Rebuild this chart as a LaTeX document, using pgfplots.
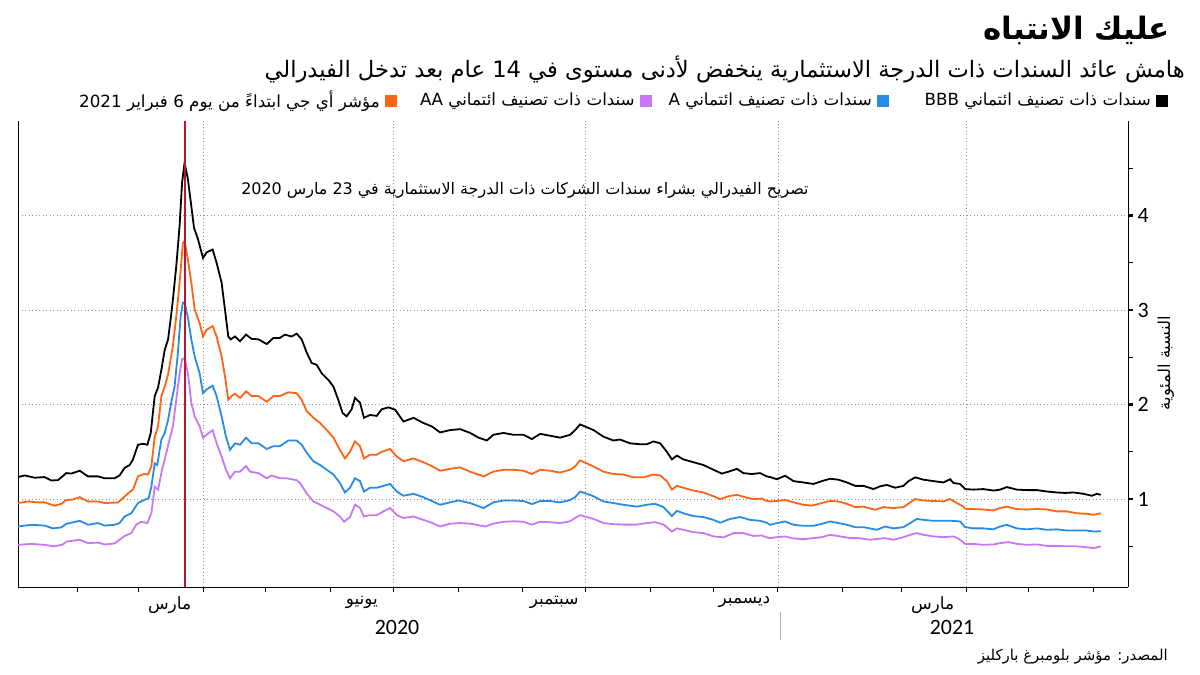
\documentclass[border=0pt]{standalone}
\usepackage{fontspec}
\setmainfont{DejaVu Sans}
\newfontfamily\arabicfont[Script=Arabic]{DejaVu Sans}
\newfontfamily\carlito{Carlito}
\TeXXeTstate=1
\usepackage{pgfplots}
\pgfplotsset{compat=1.18}
\definecolor{corange}{RGB}{255,100,20}
\definecolor{cblue}{RGB}{40,140,230}
\definecolor{cpurple}{RGB}{200,120,245}
\definecolor{cred}{RGB}{185,22,55}
\newcommand{\ar}[1]{{\arabicfont\beginR #1\endR}}
\begin{document}
\begin{tikzpicture}[x=1bp,y=1bp]
\path[use as bounding box] (0,0) rectangle (1200,675);
% titles
\node[anchor=east, inner sep=0pt, font=\arabicfont\bfseries\fontsize{31}{35}\selectfont] at (1170,645) {\ar{عليك الانتباه}};
\node[anchor=east, inner sep=0pt, font=\arabicfont\fontsize{22.7}{26}\selectfont] at (1185,606) {\ar{هامش عائد السندات ذات الدرجة الاستثمارية ينخفض لأدنى مستوى في 14 عام بعد تدخل الفيدرالي}};
% legend
\fill[black] (1156,568) rectangle (1168,580);
\node[anchor=east, inner sep=0pt, font=\arabicfont\fontsize{16.8}{19}\selectfont] at (1151,574) {\ar{سندات ذات تصنيف ائتماني BBB}};
\fill[cblue] (877,568) rectangle (889,580);
\node[anchor=east, inner sep=0pt, font=\arabicfont\fontsize{16.8}{19}\selectfont] at (872,574) {\ar{سندات ذات تصنيف ائتماني A}};
\fill[cpurple] (640,568) rectangle (652,580);
\node[anchor=east, inner sep=0pt, font=\arabicfont\fontsize{16.8}{19}\selectfont] at (635,574) {\ar{سندات ذات تصنيف ائتماني AA}};
\fill[corange] (385,568) rectangle (397,580);
\node[anchor=east, inner sep=0pt, font=\arabicfont\fontsize{16.8}{19}\selectfont] at (380,574) {\ar{مؤشر أي جي ابتداءً من يوم 6 فبراير 2021}};
% y label
\node[rotate=90, inner sep=0pt, font=\arabicfont\fontsize{16.5}{19}\selectfont] at (1166,312) {\ar{النسبة المئوية}};
% years
\node[inner sep=0pt, font=\carlito\fontsize{22}{24}\selectfont] at (397,48) {2020};
\node[inner sep=0pt, font=\carlito\fontsize{22}{24}\selectfont] at (952,48) {2021};
\draw[gray!60, line width=0.6bp] (780,63) -- (780,35);
% source
\node[anchor=east, inner sep=0pt, font=\arabicfont\fontsize{15}{18}\selectfont] at (1168,18) {\ar{المصدر: مؤشر بلومبرغ باركليز}};
\begin{axis}[
  at={(18bp,88bp)}, anchor=south west,
  width=1110bp, height=466bp, scale only axis,
  xmin=2.5, xmax=533.5, ymin=0.07, ymax=5.0,
  axis x line*=bottom, axis y line*=right,
  axis line style={black, line width=0.9bp},
  tick align=outside,
  major tick length=5bp, minor tick length=5bp,
  tick style={black, line width=0.8bp},
  major y tick style={line width=2.2bp},
  xtick={91,182,274,366,456}, xticklabels={},
  minor xtick={31,60,121,152,213,244,305,335,397,425,486,517},
  extra x ticks={75,167,259,350,440},
  extra x tick labels={{\ar{مارس}},{\ar{يونيو}},{\ar{سبتمبر}},{\ar{ديسمبر}},{\ar{مارس}}},
  extra x tick style={major tick length=0pt, grid=none},
  xticklabel style={font=\arabicfont\fontsize{17}{20}\selectfont, yshift=-6bp},
  ytick={1,2,3,4},
  minor ytick={0.5,1.5,2.5,3.5,4.5},
  /pgf/number format/assume math mode=true,
  yticklabel style={font=\carlito\fontsize{22}{24}\selectfont, xshift=1bp},
  xmajorgrids, ymajorgrids,
  major grid style={gray!85, dash pattern=on 1.3bp off 2.2bp, line width=0.6bp},
  clip mode=individual,
]
\draw[black, line width=0.9bp] (rel axis cs:0,0) -- (rel axis cs:0,1);
\node[font=\arabicfont\fontsize{16}{19}\selectfont] at (axis cs:245,4.27) {\ar{تصريح الفيدرالي بشراء سندات الشركات ذات الدرجة الاستثمارية في 23 مارس 2020}};

% AA (purple)
\addplot[cpurple, line width=1.8bp] coordinates {
(2.5,0.516)(8.9,0.526)(15.2,0.516)(20.0,0.50)(24.0,0.52)(25.6,0.55)(32.0,0.57)(36.0,0.534)(40.8,0.54)(44.0,0.52)(48.7,0.53)(51.1,0.57)(53.5,0.61)(56.7,0.64)(59.1,0.73)(61.5,0.76)(64.4,0.746)(66.3,0.85)(67.9,1.13)(69.5,1.10)(71.4,1.31)(72.7,1.42)(75.0,1.63)(76.6,1.77)(78.2,2.05)(79.8,2.33)(81.0,2.48)(82.2,2.49)(83.8,2.33)(85.4,2.02)(87.0,1.875)(89.4,1.77)(91.0,1.65)
(92.7,1.68)(95.6,1.73)(97.5,1.59)(99.9,1.45)(102.0,1.31)(103.9,1.22)(106.3,1.29)(108.7,1.29)(111.6,1.35)(113.5,1.29)(117.5,1.275)(121.5,1.22)(123.9,1.25)(127.8,1.22)(131.0,1.22)(135.8,1.20)(137.4,1.17)(140.6,1.06)(143.8,0.975)(147.0,0.94)(150.2,0.905)(153.4,0.87)(156.5,0.816)(158.5,0.76)(161.3,0.81)(163.7,0.94)(166.1,0.905)(168.0,0.816)(170.9,0.83)(174.1,0.83)(177.3,0.87)(180.5,0.905)
(183.7,0.83)(186.9,0.80)(191.7,0.816)(196.4,0.78)(200.4,0.75)(204.4,0.71)(209.2,0.74)(214.0,0.746)(218.8,0.74)(226.0,0.71)(229.9,0.74)(234.7,0.76)(239.5,0.765)(244.3,0.76)(248.3,0.73)(252.3,0.76)(257.1,0.755)(261.8,0.746)(266.6,0.765)(269.0,0.80)
(271.4,0.83)(277.8,0.79)(282.6,0.746)(287.3,0.735)(292.1,0.73)(298.5,0.73)(303.3,0.746)(307.3,0.756)(311.3,0.73)(315.3,0.657)(317.7,0.69)(320.8,0.675)(325.6,0.65)(330.4,0.64)(335.2,0.605)(340.0,0.595)(344.8,0.64)(349.5,0.64)(354.3,0.61)(358.3,0.615)(360.7,0.595)
(362.3,0.587)(365.5,0.597)(369.5,0.605)(373.5,0.583)(378.2,0.576)(383.0,0.587)(387.0,0.597)(391.0,0.622)(395.8,0.605)(400.6,0.587)(404.6,0.587)(410.1,0.57)(417.3,0.587)(421.3,0.57)(426.1,0.597)(429.3,0.622)(432.5,0.64)(435.7,0.622)(440.5,0.605)(445.2,0.597)(450.0,0.605)(452.5,0.58)
(455.6,0.526)(459.6,0.526)(464.3,0.516)(469.1,0.52)(472.3,0.534)(476.3,0.545)(480.3,0.526)(485.1,0.516)(489.9,0.52)(494.7,0.505)(499.4,0.505)(504.2,0.50)(509.0,0.50)(513.8,0.49)(517.0,0.48)(520.5,0.50)
};
% A (blue)
\addplot[cblue, line width=1.8bp] coordinates {
(2.5,0.71)(8.9,0.728)(15.2,0.72)(19.2,0.69)(23.2,0.70)(25.6,0.738)(32.0,0.77)(36.0,0.728)(40.8,0.746)(44.0,0.72)(48.7,0.728)(51.1,0.746)(53.5,0.816)(56.7,0.85)(59.9,0.958)(62.8,0.99)(65.0,1.01)(66.3,1.13)(67.9,1.38)(69.1,1.36)(71.1,1.63)(72.7,1.70)(74.3,1.84)(75.8,2.02)(77.4,2.19)(79.0,2.55)(80.3,2.93)(81.4,3.08)(82.2,3.08)(83.8,2.92)(85.4,2.69)(87.0,2.51)(89.4,2.33)(91.0,2.12)
(92.7,2.16)(95.6,2.20)(97.5,2.09)(99.9,1.875)(102.0,1.66)(103.9,1.52)(106.3,1.59)(108.7,1.575)(111.6,1.65)(114.3,1.59)(117.5,1.59)(121.5,1.53)(124.7,1.56)(127.8,1.56)(131.8,1.62)(135.8,1.62)(138.2,1.575)(140.6,1.49)(143.8,1.40)(147.0,1.36)(150.2,1.31)(153.4,1.26)(156.5,1.17)(158.9,1.07)(161.3,1.12)(163.7,1.22)(166.1,1.19)(168.0,1.08)(170.9,1.12)(174.1,1.12)(177.3,1.14)(180.5,1.16)
(183.7,1.08)(186.9,1.035)(191.7,1.056)(196.4,1.02)(200.4,0.98)(204.4,0.94)(209.2,0.965)(213.2,0.985)(218.8,0.958)(225.2,0.905)(229.9,0.965)(234.7,0.985)(239.5,0.985)(244.3,0.98)(248.3,0.947)(252.3,0.98)(257.1,0.98)(261.8,0.965)(266.6,0.99)(269.0,1.02)
(271.4,1.08)(277.8,1.03)(282.6,0.975)(287.3,0.958)(292.1,0.94)(298.5,0.92)(303.3,0.94)(307.3,0.95)(311.3,0.915)(315.3,0.82)(317.7,0.876)(320.8,0.85)(325.6,0.82)(330.4,0.81)(335.2,0.78)(338.4,0.75)(343.2,0.79)(348.0,0.81)(352.7,0.78)(357.5,0.77)(360.7,0.75)
(362.3,0.728)(365.5,0.746)(369.5,0.763)(373.5,0.728)(378.2,0.717)(383.0,0.717)(387.0,0.738)(391.0,0.763)(395.0,0.746)(399.0,0.728)(403.0,0.703)(407.0,0.703)(413.3,0.675)(417.3,0.71)(421.3,0.69)(426.1,0.703)(429.3,0.746)(432.5,0.79)(435.7,0.78)(440.5,0.77)(445.2,0.77)(449.2,0.77)(453.2,0.763)
(455.6,0.703)(459.6,0.69)(464.3,0.69)(469.1,0.68)(472.3,0.71)(475.5,0.728)(480.3,0.69)(485.1,0.68)(489.9,0.69)(494.7,0.675)(499.4,0.68)(504.2,0.667)(509.0,0.667)(513.8,0.667)(517.0,0.657)(520.5,0.66)
};
% AA index (orange)
\addplot[corange, line width=1.8bp] coordinates {
(2.5,0.958)(7.3,0.975)(12.0,0.965)(15.2,0.965)(20.0,0.93)(23.2,0.95)(25.6,0.99)(28.8,0.995)(32.0,1.02)(36.0,0.975)(40.8,0.975)(44.0,0.958)(50.3,0.965)(52.7,1.01)(55.1,1.06)(57.5,1.10)(59.9,1.24)(62.8,1.265)(64.7,1.26)(66.3,1.345)(67.9,1.66)(69.5,1.77)(71.1,2.09)(72.7,2.19)(74.3,2.32)(75.5,2.48)(76.6,2.62)(78.2,2.93)(79.8,3.29)(81.4,3.71)(82.2,3.73)(83.8,3.53)(85.4,3.29)(87.0,3.01)(89.4,2.86)(91.0,2.72)
(92.7,2.79)(95.6,2.83)(97.5,2.72)(99.9,2.51)(101.5,2.30)(103.1,2.05)(104.7,2.09)(106.3,2.115)(108.7,2.07)(111.6,2.14)(114.3,2.09)(117.5,2.09)(121.5,2.03)(124.7,2.09)(127.8,2.09)(131.8,2.13)(135.8,2.12)(138.2,2.05)(140.6,1.93)(143.8,1.86)(147.0,1.805)(150.2,1.73)(153.4,1.65)(156.5,1.52)(158.9,1.43)(161.3,1.50)(163.7,1.61)(166.1,1.56)(168.0,1.43)(170.9,1.47)(174.1,1.47)(176.5,1.50)(180.5,1.53)
(183.7,1.45)(186.9,1.40)(191.7,1.43)(196.4,1.39)(200.4,1.35)(204.4,1.30)(209.2,1.32)(214.0,1.335)(218.8,1.29)(225.2,1.24)(229.9,1.29)(234.7,1.31)(239.5,1.31)(244.3,1.30)(248.3,1.265)(252.3,1.31)(257.1,1.30)(261.8,1.28)(266.6,1.31)(269.0,1.345)
(271.4,1.41)(277.8,1.345)(282.6,1.29)(287.3,1.265)(292.1,1.26)(296.9,1.23)(301.7,1.23)(306.5,1.26)(309.7,1.25)(312.9,1.19)(315.3,1.10)(317.7,1.14)(320.8,1.12)(325.6,1.09)(330.4,1.07)(335.2,1.03)(338.4,1.00)(342.4,1.03)(346.4,1.045)(350.3,1.02)(354.3,1.00)(358.3,1.005)(360.7,0.98)
(362.3,0.975)(365.5,0.98)(369.5,0.99)(373.5,0.965)(378.2,0.94)(382.2,0.93)(387.0,0.958)(391.0,0.98)(395.0,0.975)(399.0,0.95)(403.0,0.915)(407.0,0.92)(412.5,0.887)(416.5,0.915)(421.3,0.905)(426.1,0.915)(429.3,0.965)(431.7,1.00)(435.7,0.985)(440.5,0.98)(445.2,0.975)(448.4,1.00)(451.6,0.958)(454.8,0.92)
(455.6,0.897)(459.6,0.894)(464.3,0.89)(469.1,0.88)(472.3,0.905)(475.5,0.92)(480.3,0.894)(485.1,0.89)(489.9,0.895)(494.7,0.89)(499.4,0.87)(504.2,0.87)(509.0,0.85)(513.8,0.845)(517.0,0.834)(520.5,0.85)
};
% BBB (black)
\addplot[black, line width=1.8bp] coordinates {
(2.5,1.233)(5.7,1.25)(10.5,1.226)(15.2,1.233)(18.4,1.197)(21.6,1.2)(25.6,1.275)(28.0,1.27)(32.0,1.30)(36.0,1.24)(40.8,1.24)(44.0,1.22)(48.7,1.22)(51.1,1.25)(53.5,1.33)(55.9,1.36)(57.5,1.42)(59.9,1.575)(62.3,1.585)(64.4,1.575)(66.0,1.70)(67.9,2.09)(69.5,2.18)(71.1,2.37)(72.7,2.58)(74.3,2.69)(75.5,2.90)(76.6,3.11)(78.2,3.46)(79.8,3.89)(81.0,4.35)(82.2,4.56)(83.8,4.38)(85.4,4.10)(86.7,3.87)(88.6,3.75)(91.0,3.55)
(92.7,3.61)(95.6,3.64)(97.5,3.50)(99.9,3.29)(101.5,3.005)(103.1,2.72)(104.2,2.69)(106.3,2.72)(108.7,2.67)(111.6,2.74)(114.3,2.695)(117.5,2.69)(121.5,2.64)(124.7,2.705)(127.8,2.705)(130.2,2.74)(133.4,2.72)(135.8,2.75)(138.2,2.69)(140.6,2.55)(143.0,2.44)(145.4,2.42)(147.8,2.33)(151.0,2.26)(153.4,2.19)(155.7,2.05)(157.8,1.91)(159.7,1.875)(162.1,1.95)(163.7,2.07)(166.1,2.02)(168.0,1.86)(170.9,1.89)(174.1,1.88)(176.5,1.95)(179.7,1.97)
(182.9,1.946)(186.9,1.82)(191.7,1.86)(196.4,1.805)(200.4,1.77)(204.4,1.705)(209.2,1.73)(214.0,1.74)(218.8,1.70)(222.8,1.65)(226.8,1.62)(229.9,1.68)(234.7,1.70)(239.5,1.68)(244.3,1.68)(248.3,1.635)(252.3,1.69)(257.1,1.67)(261.8,1.65)(266.6,1.68)(269.0,1.73)
(271.4,1.79)(277.8,1.73)(282.6,1.66)(287.3,1.62)(290.5,1.63)(295.3,1.59)(300.1,1.58)(303.3,1.58)(306.5,1.61)(309.7,1.59)(312.9,1.50)(315.3,1.42)(317.7,1.46)(320.8,1.42)(325.6,1.39)(330.4,1.36)(335.2,1.31)(339.2,1.27)(342.4,1.29)(346.4,1.32)(349.5,1.275)(353.5,1.265)(357.5,1.275)(360.7,1.24)
(362.3,1.233)(365.5,1.21)(369.5,1.247)(373.5,1.19)(378.2,1.176)(383.0,1.16)(387.0,1.19)(391.0,1.215)(395.0,1.205)(399.0,1.176)(403.0,1.14)(407.0,1.14)(411.7,1.106)(414.9,1.135)(418.1,1.15)(422.1,1.12)(426.1,1.14)(428.5,1.19)(431.7,1.23)(435.7,1.205)(440.5,1.19)(445.2,1.176)(448.4,1.21)(450.0,1.17)(453.2,1.16)
(455.6,1.106)(459.6,1.10)(464.3,1.106)(469.1,1.09)(472.3,1.10)(475.5,1.127)(480.3,1.10)(485.1,1.095)(489.9,1.095)(494.7,1.08)(499.4,1.07)(503.4,1.065)(507.4,1.07)(512.2,1.056)(516.2,1.035)(518.6,1.056)(520.5,1.045)
};
% Fed announcement
\addplot[cred, line width=2.8bp] coordinates {(82.4,0.07) (82.4,5.0)};
\end{axis}
\end{tikzpicture}
\end{document}
